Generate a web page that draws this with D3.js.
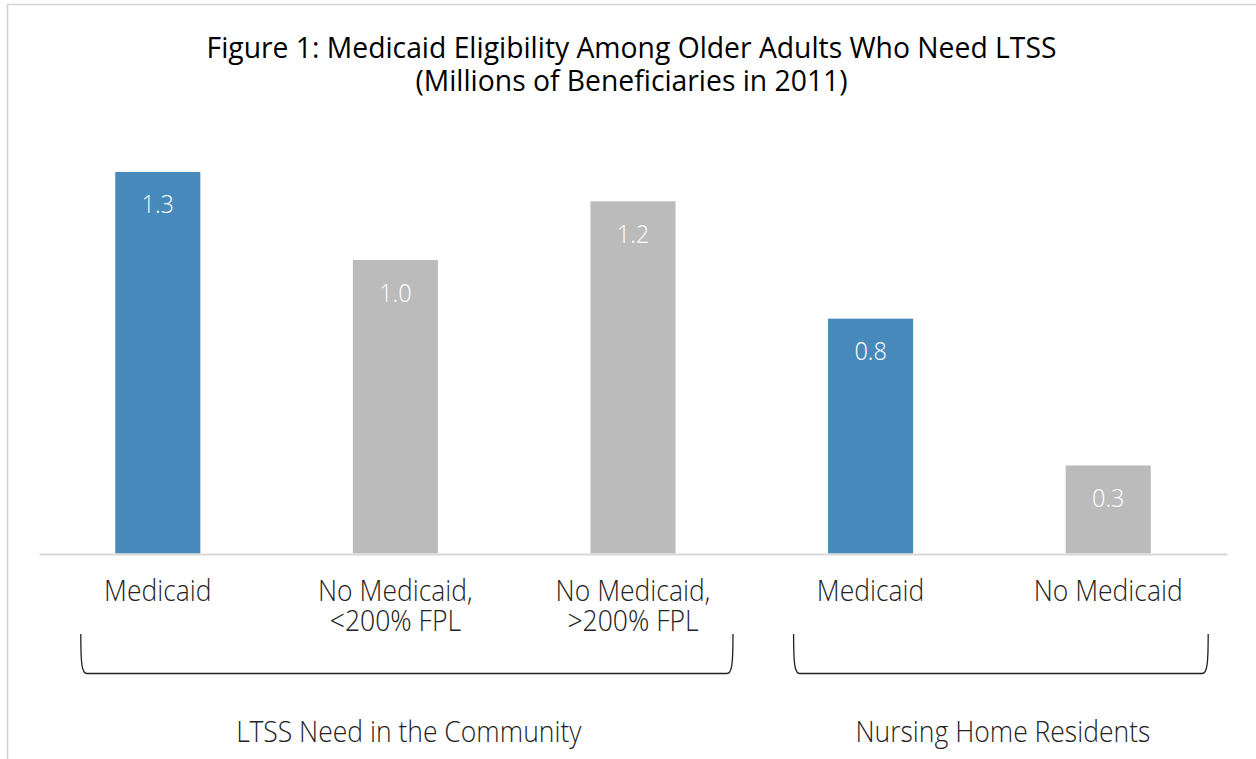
<!DOCTYPE html>
<html>
<head>
<meta charset="utf-8">
<script src="https://cdn.jsdelivr.net/npm/d3@7"></script>
<style>
  html, body { margin: 0; padding: 0; background: #fff; }
  svg { display: block; }
  text { font-family: "Open Sans Light", "Open Sans", "Noto Sans", sans-serif; }
  .title { font-family: "Open Sans", "Noto Sans", sans-serif; }
</style>
</head>
<body>
<svg id="chart" width="1256" height="759"></svg>
<script>
const titleLines = ["Figure 1: Medicaid Eligibility Among Older Adults Who Need LTSS",
                    "(Millions of Beneficiaries in 2011)"];
const categories = [["Medicaid"], ["No Medicaid,", "<200% FPL"], ["No Medicaid,", ">200% FPL"], ["Medicaid"], ["No Medicaid"]];
const values = [1.3, 1.0, 1.2, 0.8, 0.3];
const valueLabels = ["1.3", "1.0", "1.2", "0.8", "0.3"];
const medicaidFlags = [true, false, false, true, false];
const groups = ["LTSS Need in the Community", "Nursing Home Residents"];
const groupStart = [0, 3];
const groupEnd = [2, 4];

const BLUE = "#4689ba", GRAY = "#bbbbbb";
const svg = d3.select("#chart");
const W = 1256, H = 759;

// frame
svg.append("path")
  .attr("d", `M7.5,${H + 5} L7.5,4.5 L${W + 5},4.5`)
  .attr("fill", "none").attr("stroke", "#d4d4d4").attr("stroke-width", 1.6);

const idx = d3.range(values.length);
const x = d3.scaleBand().domain(idx).range([39, 1227]).paddingInner(0.642).paddingOuter(0.321);
const y = d3.scaleLinear().domain([0, 1]).range([553.5, 260]);

// helper: text stretched vertically around its baseline point
function stext(g, tx, ty, str, size, sy, fill) {
  return g.append("text")
    .attr("transform", `translate(${tx},${ty}) scale(1,${sy})`)
    .attr("text-anchor", "middle").attr("font-size", size).attr("font-weight", 300)
    .attr("fill", fill).text(str);
}

// title
titleLines.forEach((t, i) => {
  svg.append("text").attr("class", "title")
    .attr("transform", `translate(631.5,${58 + i * 33}) scale(1,1.04)`)
    .attr("text-anchor", "middle").attr("font-size", 28.3).attr("fill", "#000").text(t);
});

// bars
svg.append("g").selectAll("rect").data(idx).join("rect")
  .attr("x", i => x(i)).attr("width", x.bandwidth())
  .attr("y", i => y(values[i])).attr("height", i => y(0) - y(values[i]))
  .attr("fill", i => medicaidFlags[i] ? BLUE : GRAY);

// value labels
const vg = svg.append("g");
idx.forEach(i => stext(vg, x(i) + x.bandwidth() / 2, y(values[i]) + 41.5, valueLabels[i], 23.5, 1.12, "#fff"));

// baseline axis
const axis = d3.axisBottom(x).tickSize(0).tickFormat("");
const ax = svg.append("g").attr("transform", `translate(0,${y(0) + 0.5})`).call(axis);
ax.select(".domain").attr("stroke", "#d9d9d9").attr("stroke-width", 2);

// category labels
const cg = svg.append("g");
idx.forEach(i => categories[i].forEach((t, j) =>
  stext(cg, x(i) + x.bandwidth() / 2, 600.5 + j * 30, t, 26.5, 1.08, "#222")));

// brackets
const bTop = 634, bBot = 673.5, r = 6;
groups.forEach((g, k) => {
  const x0 = x(groupStart[k]) + x.bandwidth() / 2 - 77;
  const x1 = x(groupEnd[k]) + x.bandwidth() / 2 + 100;
  const p = d3.path();
  p.moveTo(x0, bTop);
  p.bezierCurveTo(x0, bBot - 10, x0 + 1, bBot, x0 + r, bBot);
  p.lineTo(x1 - r, bBot);
  p.bezierCurveTo(x1 - 1, bBot, x1, bBot - 10, x1, bTop);
  svg.append("path").attr("d", p.toString()).attr("fill", "none")
    .attr("stroke", "#222").attr("stroke-width", 1.3);
  stext(svg, (x0 + x1) / 2 + 2, 742, g, 26.5, 1.08, "#222");
});
</script>
</body>
</html>
